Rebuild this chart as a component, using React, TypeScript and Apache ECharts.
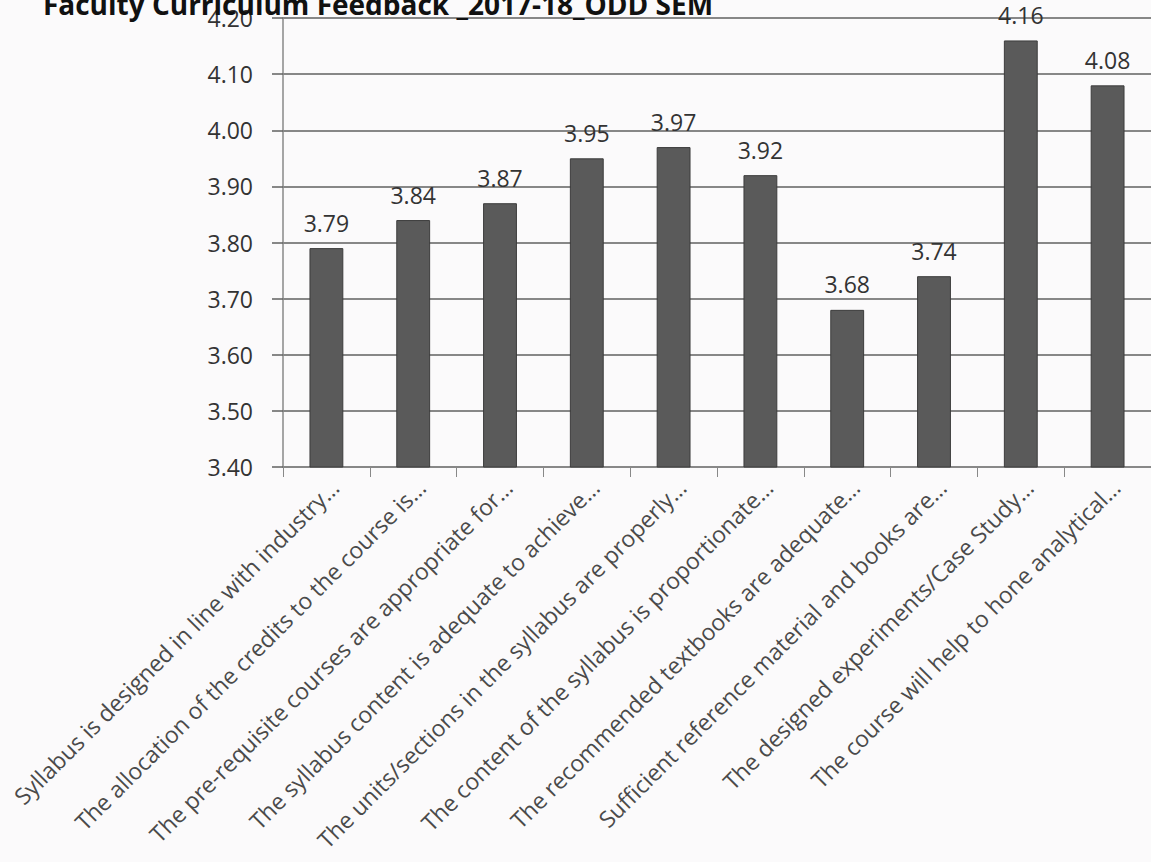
import React, { useEffect, useRef } from "react";
import * as echarts from "echarts";

const titleText = "Faculty Curriculum Feedback _2017-18_ODD SEM";
const categories = [
  "Syllabus is designed in line with industry…",
  "The allocation of the credits to the course is…",
  "The pre-requisite courses are appropriate for…",
  "The syllabus content is adequate to achieve…",
  "The units/sections in the syllabus are properly…",
  "The content of the syllabus is proportionate…",
  "The recommended textbooks are adequate…",
  "Sufficient reference material and books are…",
  "The designed experiments/Case Study…",
  "The course will help to hone analytical…",
];
const values = [3.79, 3.84, 3.87, 3.95, 3.97, 3.92, 3.68, 3.74, 4.16, 4.08];
const yMin = 3.4;
const yMax = 4.2;
const yStep = 0.1;

export default function App() {
  const ref = useRef<HTMLDivElement>(null);
  useEffect(() => {
    document.body.style.margin = "0";
    const chart = echarts.init(ref.current!, undefined, { renderer: "svg" });
    const font = "'Open Sans', 'Noto Sans', sans-serif";
    chart.setOption({
      animation: false,
      backgroundColor: "#fbfafb",
      title: {
        text: titleText,
        left: 373,
        textAlign: "center",
        top: -15,
        textStyle: { fontFamily: font, fontSize: 28, fontWeight: "bold", color: "#111" },
      },
      grid: { left: 283, top: 18, width: 870, bottom: 395, containLabel: false },
      xAxis: {
        type: "category",
        data: categories,
        axisLine: { show: true, lineStyle: { color: "#888", width: 1.5 } },
        axisTick: { show: true, length: 10, lineStyle: { color: "#888" } },
        axisLabel: {
          interval: 0,
          rotate: 45,
          margin: 8,
          verticalAlign: "top",
          fontFamily: font,
          fontSize: 23,
          color: "#4a4a4a",
        },
      },
      yAxis: {
        type: "value",
        min: yMin,
        max: yMax,
        interval: yStep,
        axisLine: { show: true, lineStyle: { color: "#888", width: 1.5 } },
        axisTick: { show: true, length: 11, lineStyle: { color: "#606060", width: 1.5 } },
        splitLine: { show: true, lineStyle: { color: "#606060", width: 1.5 } },
        axisLabel: {
          formatter: (v: number) => v.toFixed(2),
          fontFamily: font,
          fontSize: 23,
          color: "#333",
          margin: 30,
        },
      },
      series: [
        {
          type: "bar",
          data: values,
          barWidth: "39%",
          itemStyle: { color: "#5a5a5a", borderColor: "#3c3c3c", borderWidth: 1 },
          label: {
            show: true,
            position: "top",
            distance: 14,
            formatter: (p: any) => p.value.toFixed(2),
            fontFamily: font,
            fontSize: 23,
            color: "#333",
          },
        },
      ],
    });
    return () => chart.dispose();
  }, []);
  return <div ref={ref} style={{ width: 1151, height: 862 }} />;
}
